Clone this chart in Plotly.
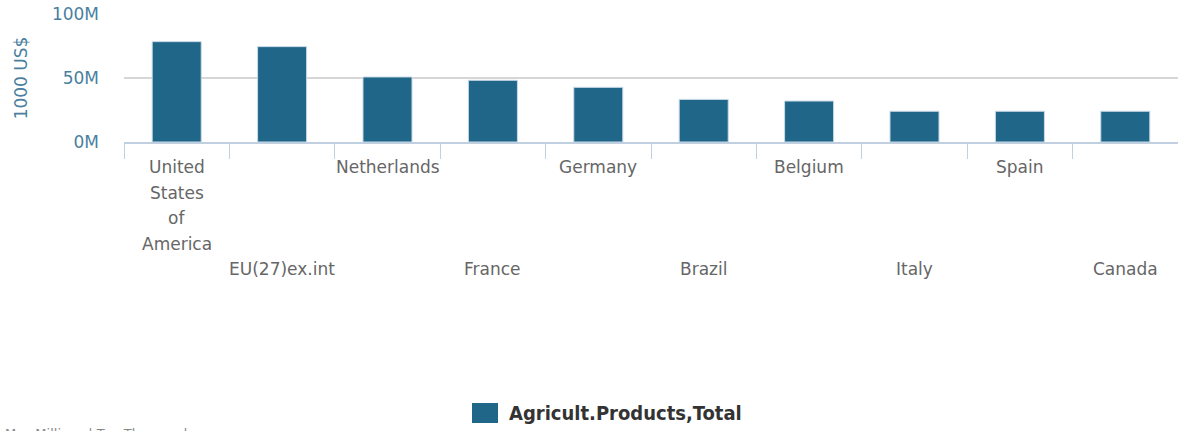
import plotly.graph_objects as go

# Agricultural products, top partners (values in 1000 US$, expressed in millions)
countries = ["United States of America", "EU(27)ex.int", "Netherlands", "France",
             "Germany", "Brazil", "Belgium", "Italy", "Spain", "Canada"]
values_m = [78.4, 74.5, 50.8, 48.2, 42.7, 33.3, 32.0, 24.0, 24.0, 24.0]
series_name = "Agricult.Products,Total"
y_tick_vals_m = [0, 50, 100]
y_tick_text = ["0M", "50M", "100M"]

W, H = 1178, 431
PLOT_L, PLOT_R, PLOT_T, PLOT_B = 124, 1178, 14, 142
BAR_COLOR = "#1f6689"
AXIS_COLOR = "#4a7fa0"
LABEL_FONT = "DejaVu Sans"


def py(p):
    """pixel row -> paper y"""
    return (PLOT_B - p) / (PLOT_B - PLOT_T)


def px(p):
    """pixel column -> paper x"""
    return (p - PLOT_L) / (PLOT_R - PLOT_L)


values = [v * 1e6 for v in values_m]

fig = go.Figure()
fig.add_trace(go.Bar(
    x=list(range(len(countries))), y=values, name=series_name,
    marker=dict(color=BAR_COLOR, line=dict(color="#c9d9e6", width=1)),
    showlegend=False,
))

# Category labels, staggered over two rows; long names wrap word by word
annotations = []
for i, name in enumerate(countries):
    words = name.split(" ") if len(name) > 14 else [name]
    start = 167 if i % 2 == 0 else 269
    for k, w in enumerate(words):
        annotations.append(dict(
            x=i, xref="x", y=py(start + k * 25.5), yref="paper",
            text=w, showarrow=False, xanchor="center", yanchor="middle",
            font=dict(family=LABEL_FONT, size=17, color="#666666"),
        ))

# Legend entry
annotations.append(dict(
    x=px(507), xref="paper", y=py(413), yref="paper", text="<b>" + series_name + "</b>",
    showarrow=False, xanchor="left", yanchor="middle",
    font=dict(family="DejaVu Sans Condensed, DejaVu Sans", size=20, color="#333333"),
))
# Footnote along the bottom edge
annotations.append(dict(
    x=px(3), xref="paper", y=py(424), yref="paper", text="M = Millions | T = Thousand",
    showarrow=False, xanchor="left", yanchor="top",
    font=dict(family=LABEL_FONT, size=13, color="#888888"),
))

shapes = [dict(
    type="rect", xref="paper", yref="paper",
    x0=px(472), x1=px(498), y0=py(423), y1=py(403),
    fillcolor=BAR_COLOR, line=dict(width=0),
)]

fig.update_layout(
    width=W, height=H,
    margin=dict(l=PLOT_L, r=W - PLOT_R, t=PLOT_T, b=H - PLOT_B, pad=0),
    paper_bgcolor="white", plot_bgcolor="white",
    bargap=0.535,
    annotations=annotations, shapes=shapes,
    xaxis=dict(
        type="linear", range=[-0.5, len(countries) - 0.5],
        tickvals=[i - 0.5 for i in range(len(countries) + 1)],
        showticklabels=False, ticks="outside", ticklen=15, tickcolor="#c0d0e0",
        showgrid=False, zeroline=False,
        showline=True, linecolor="#c0d0e0", linewidth=2,
    ),
    yaxis=dict(
        range=[0, 100e6],
        tickvals=[v * 1e6 for v in y_tick_vals_m], ticktext=y_tick_text,
        tickfont=dict(family=LABEL_FONT, size=17, color=AXIS_COLOR),
        ticklabelstandoff=24,
        showgrid=True, gridcolor="#d6d6d6", gridwidth=2,
        zeroline=False,
        title=dict(text="1000 US$", standoff=19,
                   font=dict(family=LABEL_FONT, size=17, color=AXIS_COLOR)),
    ),
)

fig.write_html("out.html")
